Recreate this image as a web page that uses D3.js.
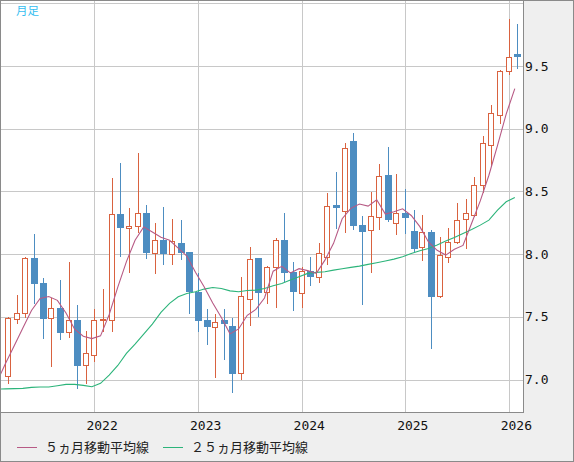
<!DOCTYPE html>
<html>
<head>
<meta charset="utf-8">
<script src="https://cdn.jsdelivr.net/npm/d3@7"></script>
<style>
  body { margin: 0; background: #efefef; }
  svg { display: block; }
</style>
</head>
<body>
<div id="chart"></div>
<script>
// monthly candles, 2021-03 .. 2026-02
const months = [
  "2021-03","2021-04","2021-05","2021-06","2021-07","2021-08","2021-09","2021-10","2021-11","2021-12",
  "2022-01","2022-02","2022-03","2022-04","2022-05","2022-06","2022-07","2022-08","2022-09","2022-10","2022-11","2022-12",
  "2023-01","2023-02","2023-03","2023-04","2023-05","2023-06","2023-07","2023-08","2023-09","2023-10","2023-11","2023-12",
  "2024-01","2024-02","2024-03","2024-04","2024-05","2024-06","2024-07","2024-08","2024-09","2024-10","2024-11","2024-12",
  "2025-01","2025-02","2025-03","2025-04","2025-05","2025-06","2025-07","2025-08","2025-09","2025-10","2025-11","2025-12",
  "2026-01","2026-02"
];
const open = [
  7.025, 7.479, 7.527, 7.968, 7.769, 7.487, 7.569, 7.375, 7.471, 7.112,
  7.192, 7.471, 7.476, 8.316, 8.207, 8.223, 8.327, 8.011, 8.112, 8.000, 8.088, 8.016,
  7.700, 7.471, 7.415, 7.471, 7.426, 7.048, 7.639, 7.968, 7.694, 7.894, 8.112, 7.856,
  7.686, 7.862, 7.814, 7.973, 8.388, 8.340, 8.901, 8.229, 8.189, 8.298, 8.630, 8.250,
  8.329, 8.186, 8.053, 8.175, 7.663, 7.979, 8.098, 8.277, 8.308, 8.548, 8.867, 9.108,
  9.459, 9.595
];
const high = [
  7.506, 7.681, 7.984, 8.167, 7.817, 7.660, 7.801, 7.944, 7.601, 7.394,
  7.567, 7.729, 8.614, 8.734, 8.375, 8.813, 8.399, 8.255, 8.383, 8.287, 8.279, 8.021,
  7.854, 7.569, 7.527, 7.567, 7.498, 7.825, 8.064, 7.979, 7.912, 8.136, 8.335, 7.944,
  7.909, 7.984, 8.096, 8.494, 8.662, 8.893, 8.973, 8.308, 8.502, 8.726, 8.864, 8.649,
  8.529, 8.359, 8.319, 8.202, 8.146, 8.213, 8.417, 8.447, 8.622, 8.949, 9.196, 9.475,
  9.884, 9.842
];
const low = [
  6.969, 7.447, 7.500, 7.612, 7.333, 7.109, 7.322, 7.335, 6.929, 6.974,
  7.149, 7.388, 7.388, 7.987, 7.859, 8.178, 7.968, 7.851, 7.920, 7.920, 7.963, 7.532,
  7.388, 7.285, 7.022, 7.165, 6.902, 7.006, 7.436, 7.508, 7.612, 7.580, 7.782, 7.556,
  7.580, 7.755, 7.779, 7.923, 8.210, 8.178, 8.202, 7.599, 7.854, 8.197, 8.263, 8.159,
  8.170, 8.027, 7.952, 7.253, 7.655, 7.939, 8.087, 8.050, 8.300, 8.497, 8.710, 9.047,
  9.433, 9.481
];
const close = [
  7.487, 7.527, 7.968, 7.763, 7.484, 7.567, 7.372, 7.471, 7.109, 7.208,
  7.471, 7.479, 8.316, 8.210, 8.223, 8.325, 8.011, 8.112, 7.997, 8.104, 8.011, 7.700,
  7.468, 7.415, 7.455, 7.439, 7.045, 7.662, 7.960, 7.691, 7.894, 8.112, 7.851, 7.700,
  7.862, 7.814, 8.005, 8.380, 8.370, 8.843, 8.226, 8.178, 8.300, 8.619, 8.271, 8.324,
  8.290, 8.037, 8.173, 7.660, 7.992, 8.098, 8.269, 8.324, 8.548, 8.883, 9.122, 9.459,
  9.568, 9.568
];
// moving averages start one month earlier (2021-02), partly hidden at the left edge
const ma5 = [
  6.98, 7.13, 7.27, 7.41, 7.55,
  7.646, 7.662, 7.631, 7.531, 7.401, 7.345, 7.326, 7.348, 7.517, 7.737, 7.940, 8.111,
  8.217, 8.176, 8.134, 8.110, 8.047, 7.985, 7.856, 7.740, 7.610, 7.495, 7.364, 7.403,
  7.512, 7.559, 7.650, 7.864, 7.902, 7.850, 7.884, 7.868, 7.846, 7.952, 8.086, 8.282,
  8.365, 8.399, 8.383, 8.433, 8.319, 8.338, 8.361, 8.308, 8.219, 8.097, 8.030, 7.992,
  8.038, 8.069, 8.246, 8.424, 8.629, 8.867, 9.116, 9.320
];
const ma25 = [
  6.923, 6.925, 6.927, 6.929, 6.937, 6.940, 6.940, 6.950, 6.961, 6.961, 6.953,
  6.942, 6.969, 7.035, 7.112, 7.208, 7.282, 7.362, 7.442, 7.535, 7.607, 7.660, 7.686,
  7.700, 7.721, 7.734, 7.726, 7.707, 7.700, 7.710, 7.713, 7.726, 7.747, 7.766, 7.793,
  7.819, 7.846, 7.854, 7.859, 7.872, 7.883, 7.894, 7.904, 7.918, 7.931, 7.945, 7.960,
  7.979, 8.005, 8.026, 8.045, 8.072, 8.104, 8.133, 8.165, 8.197, 8.231, 8.271, 8.351,
  8.417, 8.452
];
const yGrid = [7.0, 7.5, 8.0, 8.5, 9.0, 9.5, 10.0];
const yLabels = [7.0, 7.5, 8.0, 8.5, 9.0, 9.5];
const yearTicks = ["2022-01", "2023-01", "2024-01", "2025-01", "2026-01"];

const width = 574, height = 462;
const plot = { left: 1, top: 1, right: 523, bottom: 412 };
const upColor = "#d9623f", downColor = "#4d8dc1";
const ma5Color = "#b75a85", ma25Color = "#2cb47a";

const x = d3.scaleLinear().domain([0, months.length - 1]).range([8.1, 517.3]);
const y = d3.scaleLinear().domain([7, 9.5]).range([379.5, 66]);
const px = v => Math.round(v) + 0.5;

const svg = d3.select("#chart").append("svg")
  .attr("width", width)
  .attr("height", height);

svg.append("rect")
  .attr("x", 0.5).attr("y", 0.5)
  .attr("width", width - 1).attr("height", height - 1)
  .attr("fill", "#efefef").attr("stroke", "#8a8a8a");

svg.append("defs").append("clipPath").attr("id", "plotClip")
  .append("rect")
  .attr("x", plot.left).attr("y", plot.top)
  .attr("width", plot.right - plot.left).attr("height", plot.bottom - plot.top);

svg.append("rect")
  .attr("x", plot.left).attr("y", plot.top)
  .attr("width", plot.right - plot.left).attr("height", plot.bottom - plot.top)
  .attr("fill", "#fff");

const g = svg.append("g").attr("clip-path", "url(#plotClip)");

// grid
g.selectAll(".hgrid").data(yGrid).enter().append("line")
  .attr("x1", plot.left).attr("x2", plot.right)
  .attr("y1", d => px(y(d))).attr("y2", d => px(y(d)))
  .attr("stroke", "#c8c8c8").attr("shape-rendering", "crispEdges");

g.selectAll(".vgrid").data(yearTicks).enter().append("line")
  .attr("x1", d => px(x(months.indexOf(d)))).attr("x2", d => px(x(months.indexOf(d))))
  .attr("y1", plot.top).attr("y2", plot.bottom)
  .attr("stroke", "#c8c8c8").attr("shape-rendering", "crispEdges");

// candles
const candles = months.map((m, i) => ({ m, i, o: open[i], h: high[i], l: low[i], c: close[i] }));

const cg = g.selectAll(".candle").data(candles).enter().append("g")
  .attr("class", "candle")
  .attr("shape-rendering", "crispEdges");

cg.each(function(d) {
  const sel = d3.select(this);
  const r = Math.round(x(d.i));
  const up = d.c >= d.o;
  if (up) {
    const top = px(y(d.c)), bot = px(y(d.o));
    sel.append("line").attr("x1", r + 0.5).attr("x2", r + 0.5)
      .attr("y1", px(y(d.h))).attr("y2", top).attr("stroke", upColor);
    sel.append("line").attr("x1", r + 0.5).attr("x2", r + 0.5)
      .attr("y1", bot).attr("y2", px(y(d.l))).attr("stroke", upColor);
    sel.append("rect")
      .attr("x", r - 2.5).attr("width", 5)
      .attr("y", top).attr("height", Math.max(1, bot - top))
      .attr("fill", "#fff").attr("stroke", upColor);
  } else {
    sel.append("line").attr("x1", r + 0.5).attr("x2", r + 0.5)
      .attr("y1", px(y(d.h))).attr("y2", px(y(d.l))).attr("stroke", downColor);
    const top = Math.round(y(d.o)), bot = Math.round(y(d.c));
    sel.append("rect")
      .attr("x", r - 3).attr("width", 7)
      .attr("y", top).attr("height", Math.max(2, bot - top))
      .attr("fill", downColor);
  }
});

// moving averages (index -1 = 2021-02)
const maLine = d3.line()
  .x((d, i) => x(i - 1) - 2.5)
  .y(d => y(d));

g.append("path").datum(ma25)
  .attr("d", maLine)
  .attr("fill", "none").attr("stroke", ma25Color).attr("stroke-width", 1.1);

g.append("path").datum(ma5)
  .attr("d", maLine)
  .attr("fill", "none").attr("stroke", ma5Color).attr("stroke-width", 1.1);

// plot frame
svg.append("path")
  .attr("d", `M${plot.left},${plot.bottom + 0.5}H${plot.right + 0.5}V${plot.top}`)
  .attr("fill", "none").attr("stroke", "#8a8a8a").attr("shape-rendering", "crispEdges");

// y labels
svg.selectAll(".ylab").data(yLabels).enter().append("text")
  .attr("x", 525)
  .attr("y", d => y(d))
  .attr("dy", "0.36em")
  .attr("font-family", "DejaVu Sans Mono, monospace")
  .attr("font-size", 13)
  .attr("fill", "#111")
  .text(d => d3.format(".1f")(d));

// year labels
svg.selectAll(".xlab").data(yearTicks).enter().append("text")
  .attr("x", d => x(months.indexOf(d)) + 7.7)
  .attr("y", 425)
  .attr("dy", "0.36em")
  .attr("text-anchor", "middle")
  .attr("font-family", "DejaVu Sans Mono, monospace")
  .attr("font-size", 13)
  .attr("fill", "#111")
  .text(d => d.slice(0, 4));

// title
svg.append("text")
  .attr("x", 16).attr("y", 15)
  .attr("font-family", "Noto Sans CJK JP, sans-serif")
  .attr("font-size", 11.5)
  .attr("fill", "#35bdf0")
  .text("月足");

// legend
const legend = [
  { label: "５ヵ月移動平均線", color: ma5Color, x: 17 },
  { label: "２５ヵ月移動平均線", color: ma25Color, x: 163 }
];
const lg = svg.selectAll(".legend").data(legend).enter().append("g")
  .attr("transform", d => `translate(${d.x},447.5)`);
lg.append("line").attr("x1", 0).attr("x2", 20).attr("y1", 0).attr("y2", 0)
  .attr("stroke", d => d.color).attr("shape-rendering", "crispEdges");
lg.append("text")
  .attr("x", 28).attr("y", 0).attr("dy", "0.36em")
  .attr("font-family", "Noto Sans CJK JP, sans-serif")
  .attr("font-size", 13)
  .attr("fill", "#222")
  .text(d => d.label);
</script>
</body>
</html>
